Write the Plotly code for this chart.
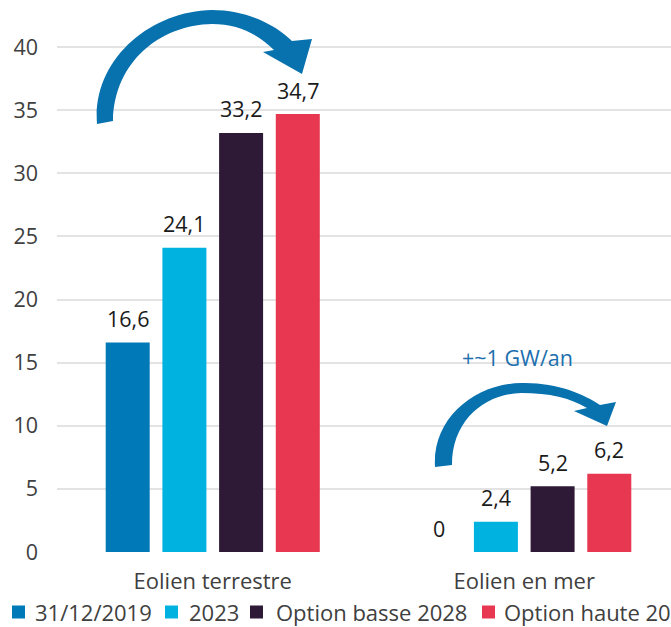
import plotly.graph_objects as go

# ---- data ----
categories = ["Eolien terrestre", "Eolien en mer"]
series_names = ["31/12/2019", "2023", "Option basse 2028", "Option haute 2028"]
values_2019 = [16.6, 0]
values_2023 = [24.1, 2.4]
values_basse = [33.2, 5.2]
values_haute = [34.7, 6.2]
y_ticks = [0, 5, 10, 15, 20, 25, 30, 35, 40]
note_text = "+~1 GW/an"

series_values = [values_2019, values_2023, values_basse, values_haute]
colors = ["#0079B8", "#00B2E0", "#2E1A36", "#E83751"]

W, H = 671, 627
ML, MR, MT, MB = 57, 0, 3, 75
PW, PH = W - ML - MR, H - MT - MB
BARGAP, BARGROUPGAP = 0.272, 0.224
FONT = "Open Sans"


def px(x, y):
    """pixel -> paper coordinates (for decorative shapes)"""
    return (x - ML) / PW, (H - MB - y) / PH


def path(cmds):
    out = []
    for c in cmds:
        if isinstance(c, str):
            out.append(c)
        else:
            xx, yy = px(*c)
            out.append(f"{xx:.5f},{yy:.5f}")
    return " ".join(out)


fig = go.Figure()
for name, vals, col in zip(series_names, series_values, colors):
    fig.add_trace(go.Bar(
        x=categories, y=vals, name=name, marker=dict(color=col, line=dict(width=0)),
        showlegend=False, hoverinfo="x+y+name",
    ))

# data labels (french decimal comma), positioned via bar offsets
slot = (1 - BARGAP) / len(series_names)
for i, vals in enumerate(series_values):
    for j, v in enumerate(vals):
        fig.add_annotation(
            x=j + (i - (len(series_names) - 1) / 2) * slot, y=v, xref="x", yref="y",
            text=(f"{v:g}").replace(".", ","), showarrow=False,
            yanchor="middle", yshift=24,
            font=dict(family=FONT, size=21.5, color="#1a1a1a"),
        )

# curved arrows
arrow1 = path(["M", (97, 124), "C", (92, 60), (150, 11), (212, 10),
               "C", (247, 10), (276, 25), (292, 41),
               "L", (312, 39), "L", (302, 74), "L", (263, 52), "L", (274, 50),
               "C", (258, 34), (238, 24), (212, 24),
               "C", (160, 25), (114, 62), (113, 121), "Z"])
arrow2 = path(["M", (435, 467), "C", (432, 418), (475, 384), (521, 383),
               "C", (556, 382), (584, 394), (600, 405),
               "L", (616, 402), "L", (607, 426), "L", (574, 411), "L", (587, 408),
               "C", (570, 398), (550, 393), (521, 393),
               "C", (485, 394), (452, 420), (452, 465), "Z"])
for p in (arrow1, arrow2):
    fig.add_shape(type="path", path=p, xref="paper", yref="paper",
                  fillcolor="#0872AE", line=dict(width=0), layer="above")

nx, ny = px(517, 357)
fig.add_annotation(x=nx, y=ny, xref="paper", yref="paper", text=note_text,
                   showarrow=False, xanchor="center", yanchor="middle",
                   font=dict(family=FONT, size=21.5, color="#1C6FAE"))

# manual legend (reference legend runs off the right edge)
leg_sq = [18.5, 171.5, 256.5, 488.5]
leg_tx = [33, 187, 274, 502]
leg_y = 612
for name, col, sx, tx in zip(series_names, colors, leg_sq, leg_tx):
    x0, y0 = px(sx - 6.5, leg_y + 6.5)
    x1, y1 = px(sx + 6.5, leg_y - 6.5)
    fig.add_shape(type="rect", x0=x0, y0=y0, x1=x1, y1=y1, xref="paper", yref="paper",
                  fillcolor=col, line=dict(width=0))
    ax, ay = px(tx, leg_y)
    fig.add_annotation(x=ax, y=ay, xref="paper", yref="paper", text=name, showarrow=False,
                       xanchor="left", yanchor="middle",
                       font=dict(family=FONT, size=22, color="#404040"))

fig.update_layout(
    width=W, height=H,
    margin=dict(l=ML, r=MR, t=MT, b=MB, pad=0),
    barmode="group", bargap=BARGAP, bargroupgap=BARGROUPGAP,
    plot_bgcolor="white", paper_bgcolor="white",
    font=dict(family=FONT, size=22, color="#404040"),
    showlegend=False,
)
fig.update_xaxes(
    range=[-0.5, -0.5 + PW / 311.5], showgrid=False, zeroline=False, showline=False,
    ticks="", tickfont=dict(family=FONT, size=22, color="#404040"), ticklabelstandoff=14,
)
fig.update_yaxes(
    range=[0, 43.5], tickvals=y_ticks, ticktext=[str(t) for t in y_ticks],
    showgrid=True, gridcolor="#E3E3E3", gridwidth=2, zeroline=False, showline=False,
    ticks="", tickfont=dict(family=FONT, size=21.5, color="#404040"), ticklabelstandoff=18,
)

fig.write_html("out.html", config={"displayModeBar": False},
               post_script="document.body.style.margin='0';")
